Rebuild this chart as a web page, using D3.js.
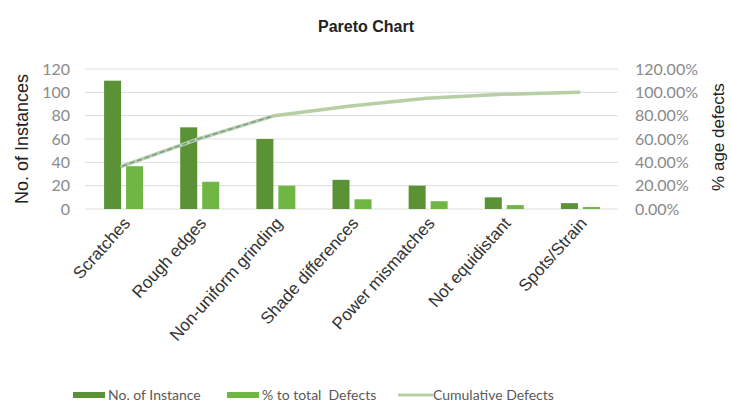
<!DOCTYPE html>
<html>
<head>
<meta charset="utf-8">
<script src="https://cdn.jsdelivr.net/npm/d3@7"></script>
<style>
  body { margin: 0; background: #fff; }
  svg { display: block; }
</style>
</head>
<body>
<svg id="chart" width="731" height="407"></svg>
<script>
// values
const categories = ["Scratches", "Rough edges", "Non-uniform grinding", "Shade differences",
  "Power mismatches", "Not equidistant", "Spots/Strain"];
const instances = [110, 70, 60, 25, 20, 10, 5];
const pctTotal = [36.67, 23.33, 20, 8.33, 6.67, 3.33, 1.67];
const cumulative = [36.67, 60, 80, 88.33, 95, 98.33, 100];
const leftTicks = [0, 20, 40, 60, 80, 100, 120];
const rightTicks = [0, 20, 40, 60, 80, 100, 120];

const darkGreen = "#5b9236";
const lightGreen = "#70b644";
const lineGreen = "#b7cfa5";
const tickFont = "Lato, 'Open Sans', sans-serif";

const svg = d3.select("#chart");
const plotL = 85, plotR = 618, plotT = 69, plotB = 209;

const x = d3.scaleBand().domain(categories).range([plotL, plotR]);
const yL = d3.scaleLinear().domain([0, 120]).range([plotB, plotT]);
const yR = d3.scaleLinear().domain([0, 120]).range([plotB, plotT]);

// title
svg.append("text")
  .attr("x", 366).attr("y", 32)
  .attr("text-anchor", "middle")
  .style("font", "bold 16px 'Liberation Sans', Arial, sans-serif")
  .attr("fill", "#222")
  .text("Pareto Chart");

// gridlines
svg.append("g")
  .selectAll("line")
  .data(leftTicks)
  .join("line")
  .attr("x1", plotL).attr("x2", plotR)
  .attr("y1", d => yL(d)).attr("y2", d => yL(d))
  .attr("stroke", "#dcdcdc").attr("stroke-width", 1);

// left axis
const axL = svg.append("g")
  .attr("transform", `translate(${plotL - 15},0)`)
  .call(d3.axisLeft(yL).tickValues(leftTicks).tickSize(0).tickPadding(0));
axL.select(".domain").remove();
axL.selectAll("text")
  .style("font-family", tickFont).style("font-size", "16px").attr("fill", "#8a8a8a");

// right axis
const axR = svg.append("g")
  .attr("transform", `translate(${plotR + 17},0)`)
  .call(d3.axisRight(yR).tickValues(rightTicks).tickSize(0).tickPadding(0)
    .tickFormat(d => d.toFixed(2) + "%"));
axR.select(".domain").remove();
axR.selectAll("text")
  .style("font-family", tickFont).style("font-size", "16px").attr("fill", "#8a8a8a");

// axis titles
svg.append("text")
  .attr("transform", `translate(28,${(plotT + plotB) / 2}) rotate(-90)`)
  .attr("text-anchor", "middle")
  .style("font", "18px 'Liberation Sans', Arial, sans-serif")
  .attr("fill", "#222")
  .text("No. of Instances");

svg.append("text")
  .attr("transform", `translate(724,${(plotT + plotB) / 2 - 2}) rotate(-90)`)
  .attr("text-anchor", "middle")
  .style("font", "17px 'Liberation Sans', Arial, sans-serif")
  .attr("fill", "#222")
  .text("% age defects");

// bars
const barW = 17, gap = 5;
svg.append("g")
  .selectAll("rect")
  .data(categories)
  .join("rect")
  .attr("x", d => x(d) + x.bandwidth() / 2 - barW - gap / 2 + 0.5)
  .attr("y", (d, i) => yL(instances[i]))
  .attr("width", barW)
  .attr("height", (d, i) => plotB - yL(instances[i]))
  .attr("fill", darkGreen);

svg.append("g")
  .selectAll("rect")
  .data(categories)
  .join("rect")
  .attr("x", d => x(d) + x.bandwidth() / 2 + gap / 2 + 0.5)
  .attr("y", (d, i) => yR(pctTotal[i]))
  .attr("width", barW)
  .attr("height", (d, i) => plotB - yR(pctTotal[i]))
  .attr("fill", lightGreen);

// cumulative line
const line = d3.line()
  .x(d => x(d.c) + x.bandwidth() / 2 - 1)
  .y(d => yR(d.v));
const pts = categories.map((c, i) => ({ c, v: cumulative[i] }));

svg.append("path")
  .datum(pts)
  .attr("d", line)
  .attr("fill", "none")
  .attr("stroke", lineGreen)
  .attr("stroke-width", 3.5)
  .attr("stroke-linecap", "round");

// dashed overlay on first segments
svg.append("path")
  .datum(pts.slice(0, 3))
  .attr("d", line)
  .attr("fill", "none")
  .attr("stroke", "#7e9c9c")
  .attr("stroke-width", 1.6)
  .attr("stroke-dasharray", "5,3");

// category labels
svg.append("g")
  .selectAll("text")
  .data(categories)
  .join("text")
  .attr("transform", d => `translate(${x(d) + x.bandwidth() / 2 + 8},${plotB + 15}) rotate(-48)`)
  .attr("text-anchor", "end")
  .style("font", "17px 'Liberation Sans', Arial, sans-serif")
  .attr("fill", "#333")
  .text(d => d);

// legend
const legend = [
  { label: "No. of Instance", type: "rect", color: darkGreen, x: 73 },
  { label: "% to total  Defects", type: "rect", color: lightGreen, x: 227 },
  { label: "Cumulative Defects", type: "line", color: lineGreen, x: 398 }
];
const lg = svg.append("g");
legend.forEach(l => {
  if (l.type === "rect") {
    lg.append("rect").attr("x", l.x).attr("y", 392).attr("width", 32).attr("height", 6).attr("fill", l.color);
  } else {
    lg.append("line").attr("x1", l.x).attr("x2", l.x + 35).attr("y1", 395).attr("y2", 395)
      .attr("stroke", l.color).attr("stroke-width", 3);
  }
  lg.append("text")
    .attr("x", l.x + 35).attr("y", 400)
    .style("font-family", tickFont).style("font-size", "14px")
    .style("white-space", "pre")
    .attr("fill", "#595959")
    .text(l.label);
});
</script>
</body>
</html>
